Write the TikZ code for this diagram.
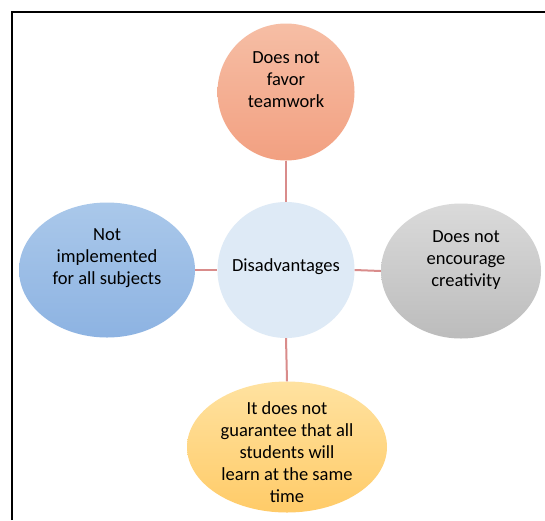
\documentclass[tikz,border=0pt]{standalone}
\usepackage{fontspec}
\setmainfont{Carlito}
\usetikzlibrary{shapes.geometric}

\definecolor{linkred}{HTML}{D98C8B}
\definecolor{salmonA}{HTML}{F6BEA5}
\definecolor{salmonB}{HTML}{F2A081}
\definecolor{paleblue}{HTML}{DEEAF6}
\definecolor{blueA}{HTML}{AAC8EA}
\definecolor{blueB}{HTML}{8DB3E2}
\definecolor{greyA}{HTML}{DADADA}
\definecolor{greyB}{HTML}{BCBCBC}
\definecolor{goldA}{HTML}{FFE2A0}
\definecolor{goldB}{HTML}{FFCB68}

\tikzset{
  bubble/.style={ellipse, draw=none, inner sep=0pt},
  txt/.style={align=center, font=\fontsize{18.5}{22}\selectfont, text=black},
  link/.style={draw=linkred, line width=2pt}
}

\begin{document}
\begin{tikzpicture}[x=1pt,y=-1pt]

	\useasboundingbox (0,0) rectangle (545,520);
	\fill[white] (0,0) rectangle (545,520);
	\draw[line width=1.8pt] (12,520) -- (12,12) -- (545,12);

	\node[bubble, shading=axis, top color=salmonA, bottom color=salmonB, minimum width=137pt, minimum height=137pt, label={[txt, yshift=12pt]center:Does not\\favor\\teamwork}] at (286,92) (team) {};
	\node[bubble, fill=paleblue, minimum width=137pt, minimum height=136pt, label={[txt, yshift=3pt]center:Disadvantages}] at (286,270) (dis) {};
	\node[bubble, shading=axis, top color=blueA, bottom color=blueB, minimum width=176pt, minimum height=135pt, label={[txt, yshift=12pt]center:Not\\implemented\\for all subjects}] at (107,270) (subj) {};
	\node[bubble, shading=axis, top color=greyA, bottom color=greyB, minimum width=160pt, minimum height=135pt, label={[txt, yshift=11pt, xshift=5pt]center:Does not\\encourage\\creativity}] at (461,271) (crea) {};
	\node[bubble, shading=axis, top color=goldA, bottom color=goldB, minimum width=200pt, minimum height=131pt, label={[txt, yshift=-5pt]center:It does not\\guarantee that all\\students will\\learn at the same\\time}] at (287,447) (learn) {};

	\draw[link] (team.south) -- (dis.north);
	\draw[link] (subj.east) -- (dis.west);
	\draw[link] (dis.east) -- (crea.west);
	\draw[link] (dis.south) -- (learn.north);

\end{tikzpicture}
\end{document}
